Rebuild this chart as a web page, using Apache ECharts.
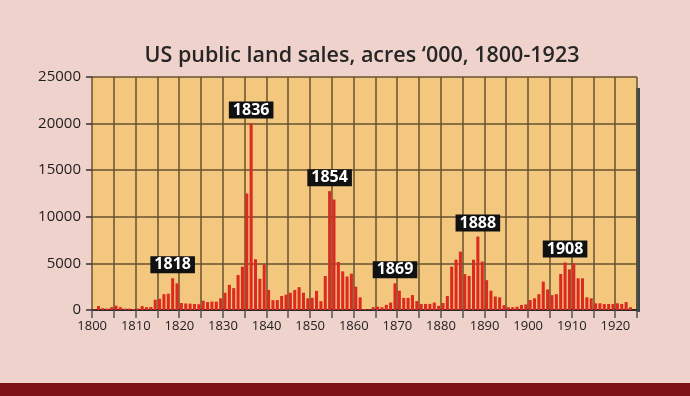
<!DOCTYPE html>
<html>
<head>
<meta charset="utf-8">
<script src="https://cdn.jsdelivr.net/npm/echarts@6/dist/echarts.min.js"></script>
<style>
  html, body { margin: 0; padding: 0; background: #efd2cb; }
  #chart { width: 690px; height: 396px; }
</style>
</head>
<body>
<div id="chart"></div>
<script>
// 年份（最后一格 1924 留空，让图表右侧留出一点空隙）
const years = []
for (let y = 1800; y <= 1924; y++) years.push(String(y))

// 公地出售面积，千英亩，1800-1923
const acres = [
  60, 420, 200, 150, 300, 470, 300, 150, 150, 100,          // 1800-1809
  150, 420, 300, 330, 1100, 1200, 1700, 1750, 3400, 2860,   // 1810-1819
  750, 700, 680, 650, 620, 1000, 850, 900, 900, 1250,       // 1820-1829
  1850, 2700, 2350, 3750, 4650, 12500, 20000, 5450, 3350, 4900, // 1830-1839
  2150, 1050, 1070, 1500, 1650, 1850, 2150, 2450, 1850, 1250,   // 1840-1849
  1300, 2050, 950, 3650, 12750, 11850, 5150, 4150, 3600, 3900,  // 1850-1859
  2500, 1360, 100, 60, 300, 360, 300, 550, 800, 2860,       // 1860-1869
  2070, 1300, 1300, 1600, 950, 650, 650, 650, 800, 450,     // 1870-1879
  750, 1500, 4650, 5400, 6260, 3850, 3650, 5400, 7880, 5200,    // 1880-1889
  3200, 2070, 1450, 1360, 520, 300, 300, 350, 540, 600,     // 1890-1899
  1070, 1250, 1700, 3040, 2200, 1600, 1700, 3860, 5100, 4360,   // 1900-1909
  5000, 3400, 3400, 1360, 1250, 720, 720, 650, 650, 650,    // 1910-1919
  720, 650, 850, 300                                        // 1920-1923
]

// 标注的高峰年份
const peakYears = ['1818', '1836', '1854', '1869', '1888', '1908']

const yTicks = [0, 5000, 10000, 15000, 20000, 25000]

const barData = acres.map((v, i) => {
  if (peakYears.includes(years[i])) {
    return { value: v, label: { show: true, formatter: years[i] } }
  }
  return v
})

const chart = echarts.init(document.getElementById('chart'))
chart.setOption({
  backgroundColor: '#efd2cb',
  animation: false,
  title: {
    text: 'US public land sales, acres \u2018000, 1800-1923',
    left: 357,
    top: 40,
    textAlign: 'center',
    textStyle: {
      fontFamily: 'Open Sans',
      fontSize: 21.5,
      fontWeight: 600,
      color: '#262626'
    }
  },
  grid: {
    left: 92,
    right: 53,
    top: 77,
    bottom: 86,
    show: true,
    backgroundColor: '#f4c77e',
    borderWidth: 0
  },
  xAxis: {
    type: 'category',
    data: years,
    boundaryGap: true,
    axisLine: { lineStyle: { color: '#2a2a2a', width: 2 } },
    axisTick: {
      show: true,
      interval: (i) => i % 5 === 0,
      length: 8,
      lineStyle: { color: '#555', width: 1.5 }
    },
    axisLabel: {
      interval: (i) => i % 10 === 0,
      fontFamily: 'Open Sans',
      fontSize: 13,
      color: '#222',
      margin: 10,
      padding: [0, 4, 0, 0]
    },
    splitLine: {
      show: true,
      interval: (i) => i % 5 === 0,
      lineStyle: { color: '#67522f', width: 1.5 }
    }
  },
  yAxis: {
    type: 'value',
    min: yTicks[0],
    max: yTicks[yTicks.length - 1],
    interval: 5000,
    axisLine: { show: false },
    axisTick: { show: true, length: 6, lineStyle: { color: '#333', width: 1.5 } },
    axisLabel: {
      formatter: (v) => String(v),
      fontFamily: 'Open Sans',
      fontSize: 15,
      color: '#1e1e1e',
      margin: 11
    },
    splitLine: { lineStyle: { color: '#67522f', width: 1.5 } }
  },
  series: [
    {
      type: 'bar',
      data: barData,
      barWidth: '70%',
      itemStyle: { color: '#dc2a20' },
      label: {
        show: false,
        position: 'top',
        distance: 5,
        backgroundColor: '#111',
        color: '#fff',
        fontFamily: 'Open Sans',
        fontWeight: 700,
        fontSize: 16,
        lineHeight: 17,
        padding: [0, 4, 0, 4]
      }
    }
  ],
  graphic: [
    // 右侧深色边
    { type: 'rect', shape: { x: 636, y: 88, width: 4, height: 224 }, style: { fill: '#3b4850' } },
    // 底部深红色条
    { type: 'rect', shape: { x: 0, y: 383, width: 690, height: 13 }, style: { fill: '#7e1118' } }
  ]
})
</script>
</body>
</html>
